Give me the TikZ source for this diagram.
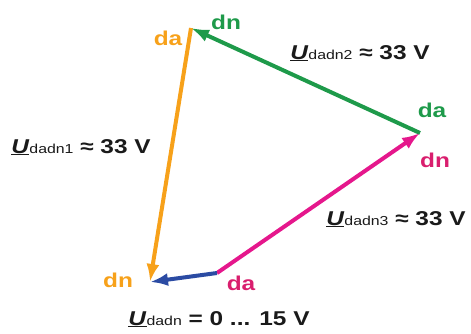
\documentclass[tikz,border=0pt]{standalone}
\usepackage{fontspec}
\setmainfont{Liberation Sans}
\newfontfamily\lblfont[FakeStretch=1.22]{Liberation Sans}
\usetikzlibrary{arrows.meta}
\definecolor{corange}{HTML}{F7A11A}
\definecolor{cgreen}{HTML}{1E9A4A}
\definecolor{cmag}{HTML}{E5178C}
\definecolor{cmagtxt}{HTML}{D91E6E}
\definecolor{cblue}{HTML}{2B4BA3}
\definecolor{ctext}{HTML}{1A1A1A}
\tikzset{
  vec/.style={line width=4pt, -{Latex[length=18pt,width=13pt]}},
  end/.style={font=\lblfont\bfseries\fontsize{20}{20}\selectfont, inner sep=0pt},
  val/.style={font=\lblfont\bfseries\fontsize{20}{20}\selectfont, text=ctext, inner sep=0pt, anchor=base},
}
\newcommand{\Uvar}[1]{\underline{\textit{U}}{\mdseries\fontsize{13}{13}\selectfont #1}}
\begin{document}
\begin{tikzpicture}[x=1pt,y=-1pt]
\useasboundingbox (0,0) rectangle (471,333);
\coordinate (T) at (191,28);
\coordinate (R) at (420,133);
\coordinate (B) at (150,282);
\coordinate (M) at (217,273);
\draw[vec, corange] (T) -- (B);
\draw[vec, cgreen] (R) -- (T);
\draw[vec, cmag] (M) -- (R);
\draw[vec, cblue] (M) -- (B);
% end labels
\node[end, text=cgreen] (ldn2) at (226,22) {dn};
\node[end, text=corange] (lda1) at (168,38) {da};
\node[end, text=cgreen] (lda2) at (432,110) {da};
\node[end, text=cmagtxt] (ldn3) at (435,160) {dn};
\node[end, text=cmagtxt] (lda3) at (241,283) {da};
\node[end, text=corange] (ldn1) at (118,280) {dn};
% values
\node[val] (v2) at (360,59) {\Uvar{dadn2} ≈ 33 V};
\node[val] (v1) at (81,153) {\Uvar{dadn1} ≈ 33 V};
\node[val] (v3) at (396,225) {\Uvar{dadn3} ≈ 33 V};
\node[val] (v0) at (219,325) {\Uvar{dadn} = 0 ... 15 V};
\end{tikzpicture}
\end{document}
